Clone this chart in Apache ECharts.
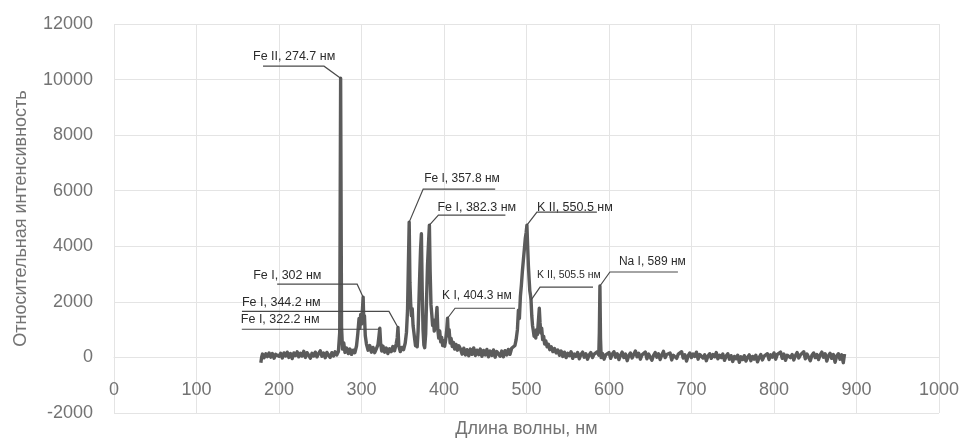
<!DOCTYPE html>
<html>
<head>
<meta charset="utf-8">
<script src="https://cdn.jsdelivr.net/npm/echarts@6/dist/echarts.min.js"></script>
<style>
  html, body { margin: 0; padding: 0; background: #ffffff; }
  #chart { width: 965px; height: 439px; }
</style>
</head>
<body>
<div id="chart"></div>
<script>
// Emission spectrum: [wavelength, nm ; relative intensity]
const uvBand = [
  [178,-190],[179,20],[180,120],[182,-10],[184,130],[186,30],[188,160],[190,10],[192,140],[194,-30],
  [196,110],[198,180],[200,40],[202,150],[204,-20],[206,160],[208,50],[210,190],[212,0],[214,140],
  [216,-40],[218,160],[220,70],[222,200],[224,20],[226,150],[228,50],[230,220],[232,0],[234,170],
  [236,80],[238,-30],[240,150],[242,50],[244,190],[246,20],[248,140],[250,240],[252,40],[254,160],
  [256,-10],[258,180],[260,80],[262,0],[264,170],[266,50],[268,200],[270,90]
];

const ironBand = [
  [272,210],[273.6,900],[274.7,10050],[275.8,1100],[277,300],[278.5,520],[280,180],[282,340],[284,140],[286,300],
  [288,110],[290,260],[292,170],[294,420],[295.5,850],[297,1400],[298,1050],[299,1550],[300,1200],[301,1650],
  [302,2170],[302.8,1250],[303.6,1500],[304.6,780],[306,480],[308,260],[310,430],[312,190],[314,360],[316,170],
  [318,310],[320,460],[321.3,800],[322.2,1050],[323.2,500],[324.5,230],[326,410],[328,190],[330,340],[332,140],
  [334,310],[336,210],[338,390],[340,240],[342,480],[343.3,700],[344.2,1080],[345.2,420],[347,210],[349,360],
  [351,280],[353,520],[354.5,900],[355.8,1700],[356.8,3300],[357.8,4870],[358.7,2700],[359.6,1950],[360.5,1500],[361.5,1750],
  [362.5,1150],[363.5,900],[364.5,650],[365.5,420],[366.5,560],[367.5,380],[368.6,950],[369.6,2000],[370.6,3000],[371.6,3900],
  [372.6,4450],[373.6,2400],[374.6,1000],[375.6,450],[376.6,350],[377.8,850],[378.8,2000],[380,3300],[381.2,4100],[382.3,4760],
  [383.2,3100],[384.2,1900],[385.2,1550],[386.2,1150],[387.2,1350],[388.2,950],[389.4,1200],[390.4,1350],[391.5,1800],[392.5,1000],
  [393.6,700],[394.8,950],[396,560],[397.2,720],[398.4,430],[399.6,600],[400.8,400],[402,620],[403.2,950],[404.3,1410],
  [405.2,780],[406.2,1000],[407.4,520],[408.6,680],[410,390],[411.4,540],[413,300],[414.6,470],[416.2,260],[418,420],
  [420,300],[422,120],[424,330],[426,90],[428,280],[430,60],[432,300],[434,110],[436,340],[438,70],
  [440,260],[442,100],[444,300],[446,40],[448,250],[450,90],[452,290],[454,20],[456,230],[458,70],
  [460,270],[462,10],[464,210],[466,260],[468,40],[470,230],[472,20],[474,240],[476,90],[478,290],[480,110],[482,330]
];

const potassiumBand = [
  [484,280],[486,430],[487.5,650],[489,1000],[490.2,1700],[491.4,1400],[492.6,2200],[493.8,2600],[495,3100],[496.2,3500],
  [497.4,3900],[498.6,4300],[499.6,4500],[500.5,4760],[501.4,4000],[502.3,3300],[503.2,2800],[504,2400],[504.8,2250],[505.5,2060],
  [506.4,1500],[507.3,1150],[508.2,980],[509.2,760],[510.2,900],[511.2,700],[512.2,1000],[513.2,820],[514.4,1300],[515.5,1770],
  [516.4,1250],[517.4,880],[518.4,1050],[519.6,640],[520.8,760],[522,480],[523.4,600],[525,380],[526.6,470],[528.2,280],
  [530,380],[532,210],[534,320],[536,160],[538,270]
];

const visibleBand = [
  [540,78],[542,232],[544,36],[546,190],[548,-6],[550,148],[552,64],[554,204],[556,-34],[558,120],
  [560,36],[562,176],[564,-48],[566,106],[568,190],[570,8],[572,134],[574,-62],[576,92],[578,176],
  [580,-6],[582,120],[584,50],[586,204],[587.6,78],[588.3,900],[589,2570],[589.7,700],[590.5,-6],[592,148],
  [594,-62],[596,92],[598,22],[600,176],[602,-34],[604,120],[606,204],[608,8],[610,134],[612,-76],
  [614,78],[616,190],[618,-6],[620,120],[622,-118],[624,64],[626,162],[628,-20],[630,106],[632,232],
  [634,22],[636,148],[638,-62],[640,92],[642,36],[644,190],[646,-48],[648,120],[650,64],[652,-104],
  [654,78],[656,176],[658,8],[660,134],[662,-76],[664,92],[666,218],[668,-6],[670,106],[672,36],
  [674,162],[676,-90],[678,78],[680,148],[682,-34],[684,120],[686,50],[688,204],[690,-20],[692,92],
  [694,-132],[696,64],[698,162],[700,-6],[702,120],[704,36],[706,190],[708,-62],[710,106],[712,148],
  [714,-20],[716,92],[718,-118],[720,50],[722,134],[724,-34],[726,106],[728,22],[730,176],[732,-48],
  [734,78],[736,-6],[738,120],[740,-104],[742,50],[744,134],[746,-62],[748,64],[750,-146],[752,36],
  [754,-48],[756,78],[758,-174],[760,22],[762,-76],[764,64],[766,-132],[768,8],[770,92],[772,-118],
  [774,36],[776,-62],[778,78],[780,-160],[782,-6],[784,106],[786,-90],[788,50],[790,-20],[792,134],
  [794,-76],[796,92],[798,8],[800,162],[802,-62],[804,106],[806,36],[808,190],[810,-34],[812,120],
  [814,-104],[816,78],[818,148],[820,-6],[822,106],[824,-90],[826,64],[828,176],[830,-20],[832,92],
  [834,22],[836,204],[838,-48],[840,120],[842,50],[844,-118],[846,78],[848,162],[850,-6],[852,106],
  [854,-76],[856,92],[858,190],[860,8],[862,134],[864,-132],[866,64],[868,148],[870,-34],[872,106],
  [874,-174],[876,50],[878,134],[880,-62],[882,92],[884,-188],[885.5,120]
];

// Identified emission lines and the wavelength each callout points at
const peakLabels = [
  'Fe II, 274.7 нм', 'Fe I, 357.8 нм', 'Fe I, 382.3 нм', 'Fe I, 302 нм', 'Fe I, 344.2 нм',
  'Fe I, 322.2 нм', 'K I, 404.3 нм', 'K II, 550.5 нм', 'K II, 505.5 нм', 'Na I, 589 нм'
];
const peakWavelengths = [274.7, 357.8, 382.3, 302, 344.2, 322.2, 404.3, 500.5, 505.5, 589];

// Axis ticks and titles
const xTicks = { min: 0, max: 1000, step: 100 };
const yTicks = { min: -2000, max: 12000, step: 2000 };
const xTitle = 'Длина волны, нм';
const yTitle = 'Относительная интенсивность';

// Callout geometry (pixels, relative to the peak): elbow offset, underline run, text anchor, font size
const calloutLayout = [
  { elbow: [-16.6, -12], run: -61,  text: [-71, -10], size: 12.5 },
  { elbow: [14, -33],    run: 72,   text: [1, -10],   size: 12 },
  { elbow: [9, -10],     run: 67,   text: [-1, -8],   size: 12.5 },
  { elbow: [-6, -13],    run: -80,  text: [-104, -9], size: 12.5 },
  { elbow: [-9, -16],    run: -147, text: [-147, -9], size: 12.5 },
  { elbow: [-2, 1],      run: -136, text: [-137, -10], size: 12.5 },
  { elbow: [7.5, -10],   run: 60,   text: [-13, -13], size: 12 },
  { elbow: [10, -13],    run: 60,   text: [0, -5],    size: 12.5 },
  { elbow: [9, -13],     run: 53,   text: [-3, -12],  size: 10.5 },
  { elbow: [10, -14],    run: 68,   text: [9, -10],   size: 12 }
];

const spectrum = uvBand.concat(ironBand, potassiumBand, visibleBand);

function intensityAt(w) {
  const pt = spectrum.find(function (d) { return d[0] === w; });
  return pt ? pt[1] : 0;
}

const calloutData = peakWavelengths.map(function (w) { return [w, intensityAt(w)]; });

const FONT = '"Liberation Sans", Arial, sans-serif';
const AXIS_TEXT = '#737373';
const GRID_LINE = '#e4e4e4';

const WIDTH = 965, HEIGHT = 439;
const GRID = { left: 114, right: 26, top: 24, bottom: 26 };
// Lift the wavelength axis from the grid bottom up to the zero-intensity line
const plotHeight = HEIGHT - GRID.top - GRID.bottom;
const zeroLift = plotHeight * (0 - yTicks.min) / (yTicks.max - yTicks.min);

const chart = echarts.init(document.getElementById('chart'), null, { renderer: 'canvas' });

chart.setOption({
  animation: false,
  backgroundColor: '#ffffff',
  title: {
    text: xTitle,
    left: GRID.left + (WIDTH - GRID.left - GRID.right) / 2,
    textAlign: 'center',
    bottom: 0,
    padding: [0, 0, 1, 0],
    textStyle: { color: AXIS_TEXT, fontSize: 18, fontWeight: 'normal', fontFamily: FONT }
  },
  grid: { left: GRID.left, right: GRID.right, top: GRID.top, bottom: GRID.bottom, containLabel: false },
  xAxis: {
    type: 'value',
    min: xTicks.min, max: xTicks.max, interval: xTicks.step,
    position: 'bottom',
    offset: -zeroLift,
    axisLine: { show: true, onZero: false, lineStyle: { color: GRID_LINE, width: 1 } },
    axisTick: { show: false },
    axisLabel: { color: AXIS_TEXT, fontSize: 18, fontFamily: FONT, margin: 24, formatter: function (v) { return String(v); } },
    splitLine: { show: true, lineStyle: { color: GRID_LINE, width: 1 } }
  },
  yAxis: {
    type: 'value',
    min: yTicks.min, max: yTicks.max, interval: yTicks.step,
    axisLine: { show: false },
    axisTick: { show: false },
    axisLabel: { color: AXIS_TEXT, fontSize: 18, fontFamily: FONT, margin: 21, formatter: function (v) { return String(v); } },
    splitLine: { show: true, lineStyle: { color: GRID_LINE, width: 1 } },
    name: yTitle,
    nameLocation: 'middle',
    nameGap: 84,
    nameTextStyle: { color: AXIS_TEXT, fontSize: 18, fontFamily: FONT }
  },
  series: [
    {
      type: 'line',
      data: spectrum,
      showSymbol: false,
      symbol: 'none',
      silent: true,
      lineStyle: { color: '#5b5b5b', width: 3.4, join: 'round' },
      z: 2
    },
    {
      type: 'custom',
      coordinateSystem: 'cartesian2d',
      data: calloutData,
      silent: true,
      z: 5,
      renderItem: function (params, api) {
        const i = params.dataIndex;
        const p = api.coord([api.value(0), api.value(1)]);
        const L = calloutLayout[i];
        const ex = p[0] + L.elbow[0];
        const ey = p[1] + L.elbow[1];
        return {
          type: 'group',
          children: [
            {
              type: 'polyline',
              shape: { points: [[p[0], p[1]], [ex, ey], [ex + L.run, ey]] },
              style: { stroke: '#4a4a4a', lineWidth: 1.2, fill: null }
            },
            {
              type: 'text',
              x: ex + L.text[0],
              y: ey + L.text[1],
              style: {
                text: peakLabels[i],
                fill: '#2b2b2b',
                fontSize: L.size,
                fontFamily: FONT,
                align: 'left',
                verticalAlign: 'middle'
              }
            }
          ]
        };
      }
    }
  ]
});
</script>
</body>
</html>
